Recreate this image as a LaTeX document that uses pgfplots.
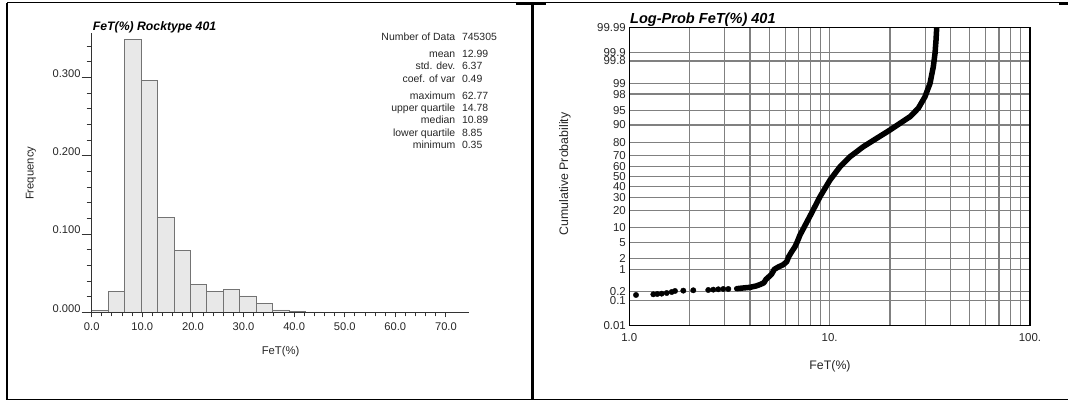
\documentclass[border=0pt]{standalone}
\usepackage{pgfplots}
\pgfplotsset{compat=1.18}
\usepackage{fontspec}
\setmainfont{Liberation Sans}
\begin{document}
\begin{tikzpicture}
\useasboundingbox (0,0) rectangle (1068bp,400bp);
% frame
\draw[line width=1.3bp] (7bp,397.3bp) -- (1068bp,397.3bp);
\draw[line width=2.7bp] (516bp,396.7bp) -- (546bp,396.7bp);
\draw[line width=2.7bp] (1059bp,396.7bp) -- (1068bp,396.7bp);
\draw[line width=1.3bp] (7bp,397.3bp) -- (7bp,0.7bp) -- (1068bp,0.7bp);
\draw[line width=2.3bp] (532.5bp,397.3bp) -- (532.5bp,0.7bp);

% ---------------- histogram ----------------
\begin{axis}[
 at={(91.7bp,87.7bp)}, anchor=south west,
 scale only axis, width=377bp, height=279.6bp,
 xmin=0, xmax=74.5, ymin=0, ymax=0.357,
 axis lines=left, axis line style={-, line width=1.2bp, black!80},
 axis on top,
 tick align=outside, major tick length=5bp, minor tick length=4bp,
 tick style={line width=0.9bp, black!80},
 xtick={0,10,...,70}, xticklabels={0.0,10.0,20.0,30.0,40.0,50.0,60.0,70.0},
 minor x tick num=4,
 ytick={0,0.02,...,0.35}, yticklabels={},
 extra y ticks={0,0.1,0.2,0.3},
 extra y tick labels={0.000,0.100,0.200,0.300},
 extra y tick style={major tick length=10bp},
 ticklabel style={font=\fontsize{11.2}{13}\selectfont, inner sep=0pt, black!85},
 xticklabel style={anchor=north, yshift=-5bp},
 yticklabel style={anchor=base east, xshift=-1bp},
]
\addplot[ybar, bar width=3.25, bar shift=0pt, fill=black!9, draw=black!55, line width=0.8bp]
 coordinates {(1.625,0.002) (4.875,0.0265) (8.125,0.348) (11.375,0.2965)
 (14.625,0.121) (17.875,0.0786) (21.125,0.035) (24.375,0.027) (27.625,0.0295)
 (30.875,0.0209) (34.125,0.0115) (37.375,0.003) (40.625,0.001) (43.875,0.0004)
 (47.125,0.0003) (50.375,0.0002) (53.625,0.0002) (56.875,0.0001) (60.125,0.0001) (63.375,0.0001)};
\end{axis}

\node[font=\fontsize{12.3}{14}\selectfont\bfseries\itshape, anchor=base west, inner sep=0pt] at (92.7bp,369.9bp) {FeT(\%) Rocktype 401};
\node[font=\fontsize{11.3}{13}\selectfont, inner sep=0pt, black!85] at (280.6bp,48.3bp) {FeT(\%)};
\node[font=\fontsize{11.3}{13}\selectfont, inner sep=0pt, rotate=90, black!85] at (31bp,226.7bp) {Frequency};

\begin{scope}[every node/.style={font=\fontsize{10.5}{12}\selectfont, inner sep=0pt, black!85}]
\foreach \lab/\val/\yy in {Number of Data/745305/359.5, mean/12.99/342.9, std. dev./6.37/330.2,
  coef. of var/0.49/317.9, maximum/62.77/300.5, upper quartile/14.78/288.2,
  median/10.89/276.2, lower quartile/8.85/263.5, minimum/0.35/251.5}{
  \node[anchor=base east] at (455.5bp,\yy bp) {\lab};
  \node[anchor=base west] at (461.8bp,\yy bp) {\val};
}
\end{scope}

% ---------------- log-probability plot ----------------
\begin{axis}[
 at={(629.3bp,74.5bp)}, anchor=south west,
 scale only axis, width=400.7bp, height=298.2bp,
 xmode=log, xmin=1, xmax=100, ymin=-3.719, ymax=3.719,
 xtick={1,10,100}, xticklabels={1.0,10.,100.},
 minor xtick={2,3,4,5,6,7,8,9,20,30,40,50,60,70,80,90},
 ytick={-3.7190,-3.0902,-2.8782,-2.3263,-2.0537,-1.6449,-1.2816,-0.8416,-0.5244,-0.2533,0,
        0.2533,0.5244,0.8416,1.2816,1.6449,2.0537,2.3263,2.8782,3.0902,3.7190},
 yticklabels={0.01,0.1,0.2,1,2,5,10,20,30,40,50,60,70,80,90,95,98,99,99.8,99.9,99.99},
 xmajorgrids, xminorgrids, ymajorgrids,
 major tick length=0pt, minor tick length=0pt,
 major grid style={black!50, line width=1.2bp},
 minor grid style={black!50, line width=1.2bp},
 axis line style={black, line width=1.4bp},
 ticklabel style={font=\fontsize{11.5}{13}\selectfont, inner sep=0pt, black!85},
 yticklabel style={anchor=east, xshift=-3.3bp},
 xticklabel style={anchor=north, yshift=-7.5bp},
]
% cumulative probability, y given as standard normal quantile of the probability
\addplot[only marks, mark=*, mark size=2.7bp, black] coordinates {
 (1.080,-2.958) (1.318,-2.941) (1.380,-2.933) (1.451,-2.925) (1.537,-2.908)
 (1.628,-2.883) (1.691,-2.858) (1.860,-2.850) (2.086,-2.841) (2.479,-2.833)
 (2.626,-2.825) (2.781,-2.816) (2.946,-2.808) (3.120,-2.808)};
\addplot[black, line width=5.5bp, line cap=round, line join=round] coordinates {
 (3.436,-2.800) (3.707,-2.783) (4.003,-2.767) (4.290,-2.734) (4.527,-2.692)
 (4.702,-2.651) (4.811,-2.567) (4.941,-2.517) (5.138,-2.434) (5.293,-2.318)
 (5.542,-2.260) (5.870,-2.202) (6.104,-2.127) (6.246,-2.003) (6.465,-1.878)
 (6.716,-1.753) (6.896,-1.628) (7.112,-1.462) (7.98,-0.99) (8.95,-0.506)
 (10.04,-0.09) (11.27,0.242) (12.64,0.491) (14.72,0.741) (17.17,0.950)
 (20.01,1.157) (22.44,1.324) (25.18,1.489) (27.70,1.699) (29.92,1.988)
 (31.70,2.322) (32.92,2.736) (33.57,3.070) (33.96,3.402) (34.22,3.700)};
\end{axis}

\node[font=\fontsize{14.6}{16}\selectfont\bfseries\itshape, anchor=base west, inner sep=0pt] at (630bp,376bp) {Log-Prob FeT(\%) 401};
\node[font=\fontsize{12.4}{14}\selectfont, inner sep=0pt, black!85] at (830bp,34bp) {FeT(\%)};
\node[font=\fontsize{12.4}{14}\selectfont, inner sep=0pt, rotate=90, black!85] at (565bp,226bp) {Cumulative Probability};
\end{tikzpicture}
\end{document}
